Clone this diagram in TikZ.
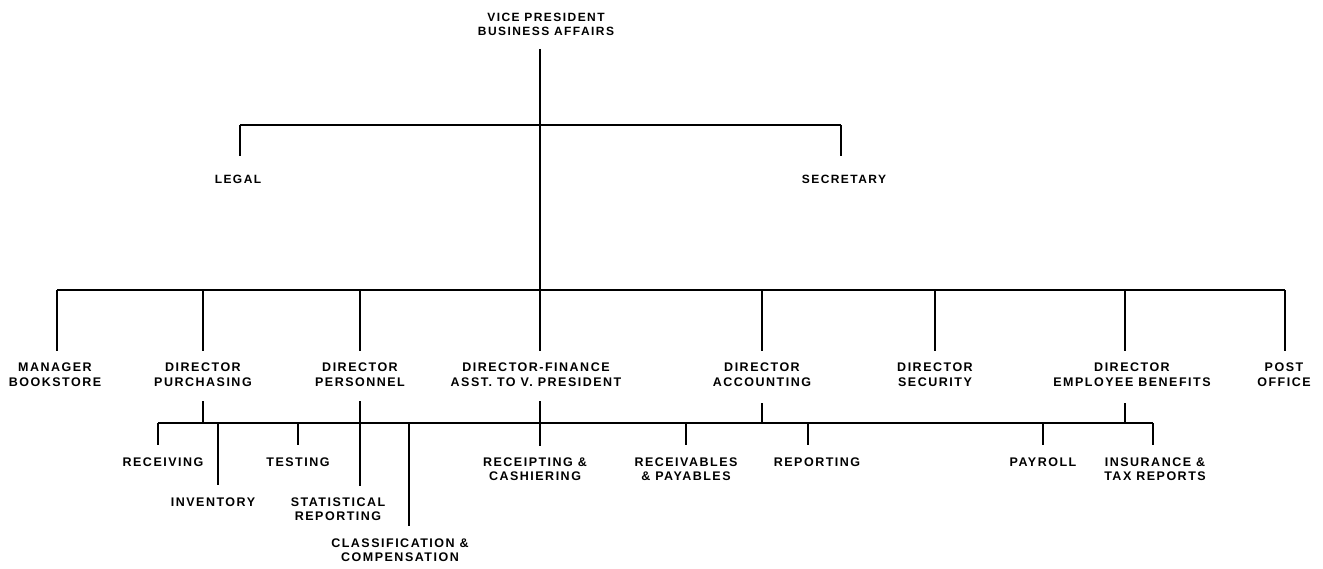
\documentclass[tikz,border=0pt]{standalone}
\usepackage{fontspec}
\setmainfont{Liberation Sans}
\newfontfamily\spacedfont{Liberation Sans}[LetterSpace=12]
\tikzset{
  vpbox/.style={align=center, inner sep=0pt, anchor=north, font=\spacedfont\bfseries\fontsize{12}{14}\selectfont},
  headbox/.style={align=center, inner sep=0pt, anchor=north, font=\spacedfont\bfseries\fontsize{12.5}{15}\selectfont},
  subbox/.style={align=center, inner sep=0pt, anchor=north, font=\spacedfont\bfseries\fontsize{12.5}{14.5}\selectfont},
  wire/.style={line width=1.5pt}
}
\begin{document}
\begin{tikzpicture}[x=1pt, y=-1pt, wire]
\useasboundingbox (0,0) rectangle (1323,568);
\node[vpbox] (vp) at (546,12) {VICE PRESIDENT\\BUSINESS AFFAIRS};
\node[vpbox] (legal) at (238,174) {LEGAL};
\node[vpbox] (secr) at (844,174) {SECRETARY};
\node[headbox] (book) at (55,362) {MANAGER\\BOOKSTORE};
\node[headbox] (purch) at (203,362) {DIRECTOR\\PURCHASING};
\node[headbox] (pers) at (360,362) {DIRECTOR\\PERSONNEL};
\node[headbox] (fin) at (536,362) {DIRECTOR-FINANCE\\ASST. TO V. PRESIDENT};
\node[headbox] (acct) at (762,362) {DIRECTOR\\ACCOUNTING};
\node[headbox] (secu) at (935,362) {DIRECTOR\\SECURITY};
\node[headbox] (bene) at (1132,362) {DIRECTOR\\EMPLOYEE BENEFITS};
\node[headbox] (post) at (1284,362) {POST\\OFFICE};
\node[subbox] (recv) at (163,457) {RECEIVING};
\node[subbox] (inv) at (213,497) {INVENTORY};
\node[subbox] (test) at (298,457) {TESTING};
\node[subbox] (stat) at (338,497) {STATISTICAL\\REPORTING};
\node[subbox] (clas) at (400,538) {CLASSIFICATION \&\\COMPENSATION};
\node[subbox] (rcpt) at (535,457) {RECEIPTING \&\\CASHIERING};
\node[subbox] (rcvb) at (686,457) {RECEIVABLES\\\& PAYABLES};
\node[subbox] (rept) at (817,457) {REPORTING};
\node[subbox] (pay) at (1043,457) {PAYROLL};
\node[subbox] (ins) at (1155,457) {INSURANCE \&\\TAX REPORTS};
\coordinate (trunk) at (540,0);
\coordinate (topl) at (240,125);
\coordinate (topr) at (841,125);
\coordinate (busl) at (57,290);
\coordinate (busr) at (1285,290);
\coordinate (lowl) at (158,423);
\coordinate (lowr) at (1153,423);
\draw (topl) -- (topr);
\draw[shorten >=18pt] (topl) -- (topl |- legal.north);
\draw[shorten >=18pt] (topr) -- (topr |- secr.north);
\draw[shorten <=13pt, shorten >=11pt] (trunk |- vp.south) -- (trunk |- fin.north);
\draw (busl) -- (busr);
\foreach \x/\n in {57/book, 203/purch, 360/pers, 762/acct, 935/secu, 1125/bene, 1285/post}
  \draw[shorten >=11pt] (\x,290) -- (\x,290 |- \n.north);
\draw (lowl) -- (lowr);
\draw[shorten <=14pt] (purch.south) -- (purch.south |- lowl);
\draw[shorten <=14pt, shorten >=11pt] (360,0 |- pers.south) -- (360,0 |- stat.north);
\draw[shorten <=14pt, shorten >=11pt] (trunk |- fin.south) -- (trunk |- rcpt.north);
\draw[shorten <=16pt] (acct.south) -- (acct.south |- lowl);
\draw[shorten <=16pt] (1125,0 |- bene.south) -- (1125,0 |- lowl);
\foreach \x/\n in {158/recv, 218/inv, 298/test, 409/clas, 686/rcvb, 808/rept, 1043/pay, 1153/ins}
  \draw[shorten >=12pt] (\x,423) -- (\x,423 |- \n.north);
\end{tikzpicture}
\end{document}
